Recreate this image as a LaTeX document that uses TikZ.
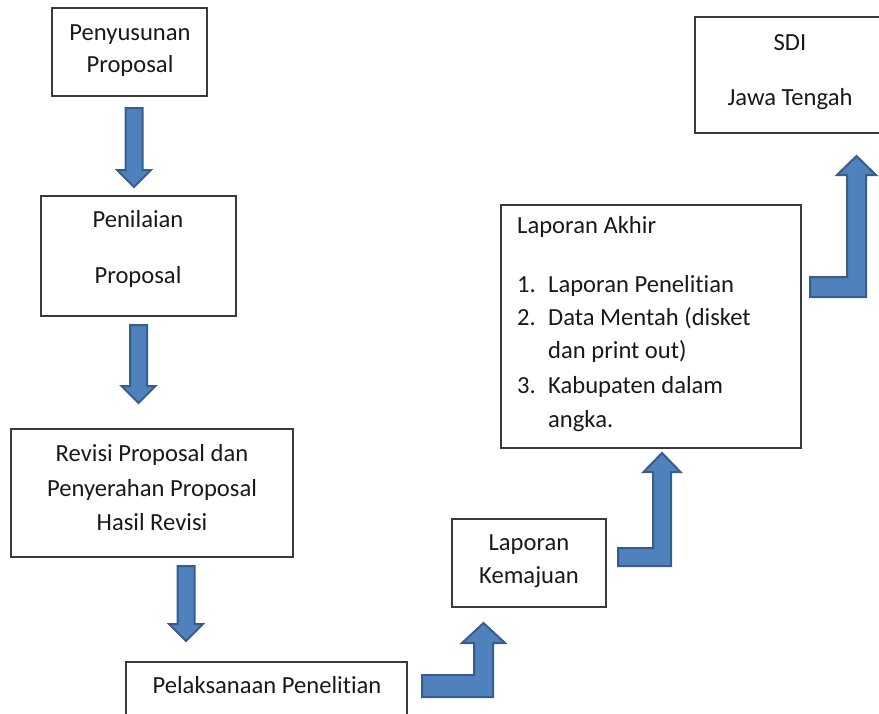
\documentclass[tikz,border=0pt]{standalone}
\usepackage{fontspec}
\setmainfont{Carlito}[Ligatures=NoCommon]
\definecolor{boxline}{HTML}{3A3A3A}
\definecolor{arrowfill}{HTML}{4F81BD}
\definecolor{arrowline}{HTML}{385D8A}
\tikzset{
  box/.style={draw=boxline, line width=1.2pt, inner sep=0pt},
  txt/.style={anchor=base, inner sep=0pt, text=black!90, font=\fontsize{24.6}{32}\selectfont},
  txtl/.style={txt, anchor=base west},
  blockarrow/.style={fill=arrowfill, draw=arrowline, line width=2pt, line join=miter}
}
% straight arrow pointing down: centre x, shaft top, tip y
\newcommand\blockdown[3]{%
  \draw[blockarrow] ({#1-8.5},#2) -- ({#1+8.5},#2) -- ({#1+8.5},{#3-17})
    -- ({#1+17},{#3-17}) -- (#1,#3) -- ({#1-17},{#3-17}) -- ({#1-8.5},{#3-17}) -- cycle;}
% bent arrow: bar left, bar top, bar bottom, shaft left, shaft right,
% head base, head half width, tip y
\newcommand\blockbent[8]{%
  \draw[blockarrow] (#1,#2) -- (#4,#2) -- (#4,#6) -- ({(#4+#5)/2-#7},#6)
    -- ({(#4+#5)/2},#8) -- ({(#4+#5)/2+#7},#6) -- (#5,#6) -- (#5,#3) -- (#1,#3) -- cycle;}
\begin{document}
\begin{tikzpicture}[x=1pt,y=-1pt]
\useasboundingbox (0,0) rectangle (879,713);
\clip (0,0) rectangle (879,713);

% boxes
\node[box, minimum width=155pt, minimum height=88pt]  (b1) at (129.5,52) {};
\node[box, minimum width=195pt, minimum height=120pt] (b2) at (138.5,256) {};
\node[box, minimum width=282pt, minimum height=128pt] (b3) at (152,493) {};
\node[box, minimum width=281pt, minimum height=78pt]  (b4) at (266.5,701) {};
\node[box, minimum width=154pt, minimum height=88pt]  (b5) at (529,563) {};
\node[box, minimum width=300pt, minimum height=243pt] (b6) at (651,326.5) {};
\node[box, minimum width=205pt, minimum height=116pt] (b7) at (797.5,75) {};

% texts
\node[txt] (t1a) at (130,40) {Penyusunan};
\node[txt] (t1b) at (130,72) {Proposal};
\node[txt] (t2a) at (138,227) {Penilaian};
\node[txt] (t2b) at (138,283) {Proposal};
\node[txt] (t3a) at (152,461) {Revisi Proposal dan};
\node[txt] (t3b) at (152,496) {Penyerahan Proposal};
\node[txt] (t3c) at (152,530) {Hasil Revisi};
\node[txt] (t4a) at (267,693) {Pelaksanaan Penelitian};
\node[txt] (t5a) at (529,550) {Laporan};
\node[txt] (t5b) at (529,583) {Kemajuan};
\node[txtl] (t6a) at (517,233) {Laporan Akhir};
\node[txtl] (n1) at (517,292) {1.};
\node[txtl] (t6b) at (548,292) {Laporan Penelitian};
\node[txtl] (n2) at (517,325) {2.};
\node[txtl] (t6c) at (548,325) {Data Mentah (disket};
\node[txtl] (t6d) at (548,358) {dan print out)};
\node[txtl] (n3) at (517,393) {3.};
\node[txtl] (t6e) at (548,393) {Kabupaten dalam};
\node[txtl] (t6f) at (548,427) {angka.};
\node[txt] (t7a) at (790,50) {SDI};
\node[txt] (t7b) at (790,105) {Jawa Tengah};

% arrows
\blockdown{134}{108}{187}
\blockdown{138.5}{325}{403}
\blockdown{186}{566}{641}
\blockbent{422}{675}{697}{474}{493}{643}{21.5}{623}
\blockbent{618}{548}{566}{653}{671}{472}{18.5}{453}
\blockbent{810}{277}{297}{847}{866}{175}{19.5}{156}
\end{tikzpicture}
\end{document}
